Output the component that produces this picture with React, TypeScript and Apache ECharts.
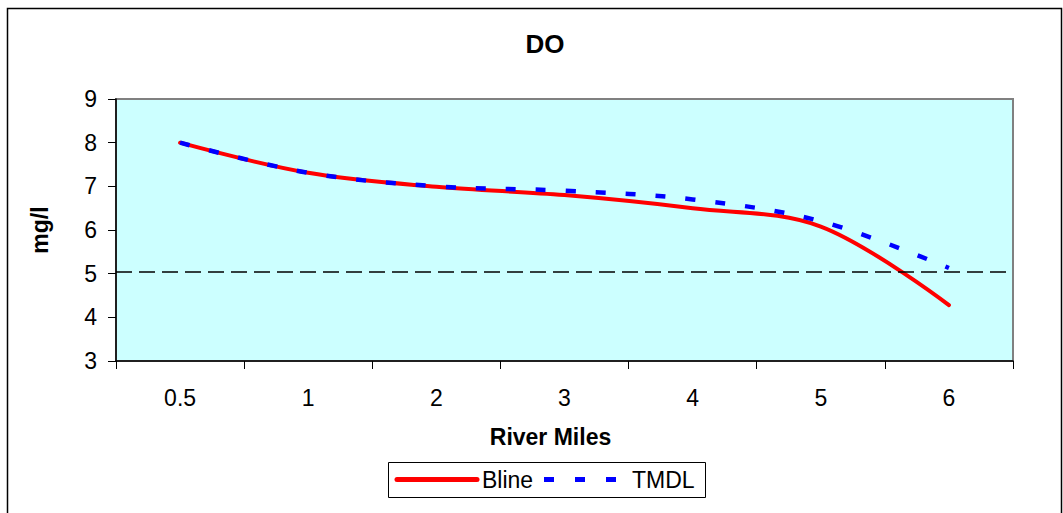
import React, { useEffect, useRef } from "react";
import * as echarts from "echarts";

const categories = ["0.5", "1", "2", "3", "4", "5", "6"];
const blineValues = [8.0, 7.31, 6.99, 6.8, 6.5, 6.08, 4.28];
const tmdlValues = [8.0, 7.31, 7.0, 6.9, 6.7, 6.2, 5.13];
const standardValue = 5.05;
const yTicks = { min: 3, max: 9, interval: 1 };
const legendNames = ["Bline", "TMDL"];

export default function App() {
  const ref = useRef<HTMLDivElement>(null);
  useEffect(() => {
    document.body.style.margin = "0";
    const chart = echarts.init(ref.current!, null, { renderer: "svg" });
    const font = "'Liberation Sans', Arial, sans-serif";
    chart.setOption({
      animation: false,
      backgroundColor: "#ffffff",
      textStyle: { fontFamily: font },
      title: {
        text: "DO",
        left: 540,
        textAlign: "center",
        top: 26,
        textStyle: { fontSize: 26, fontWeight: "bold", color: "#000", fontFamily: font },
      },
      grid: {
        left: 116,
        right: 50,
        top: 99,
        bottom: 152,
        show: true,
        backgroundColor: "#CCFFFF",
        borderColor: "#808080",
        borderWidth: 2,
      },
      xAxis: {
        type: "category",
        data: categories,
        boundaryGap: true,
        name: "River Miles",
        nameLocation: "middle",
        nameGap: 64,
        nameTextStyle: {
          fontSize: 23,
          fontWeight: "bold",
          color: "#000",
          fontFamily: font,
          padding: [0, 28, 0, 0],
        },
        axisLine: { show: true, lineStyle: { color: "#000", width: 1.5 } },
        axisTick: { show: true, interval: 0, length: 8, lineStyle: { color: "#000", width: 1 } },
        axisLabel: { fontSize: 23, color: "#000", margin: 25, fontFamily: font, interval: 0 },
        splitLine: { show: false },
      },
      yAxis: {
        type: "value",
        min: yTicks.min,
        max: yTicks.max,
        interval: yTicks.interval,
        name: "mg/l",
        nameLocation: "middle",
        nameGap: 65,
        nameRotate: 90,
        nameTextStyle: { fontSize: 23, fontWeight: "bold", color: "#000", fontFamily: font },
        axisLine: { show: true, lineStyle: { color: "#000", width: 1.5 } },
        axisTick: { show: true, length: 8, lineStyle: { color: "#000", width: 1 } },
        axisLabel: { fontSize: 23, color: "#000", margin: 19, fontFamily: font },
        splitLine: { show: false },
      },
      series: [
        {
          name: legendNames[0],
          type: "line",
          data: blineValues,
          smooth: 0.35,
          symbol: "none",
          lineStyle: { color: "#FF0000", width: 4, cap: "round" },
          itemStyle: { color: "#FF0000" },
          z: 3,
          markLine: {
            silent: true,
            symbol: ["none", "none"],
            label: { show: false },
            lineStyle: { color: "#000", width: 1.5, type: [16, 7] },
            data: [{ yAxis: standardValue }],
          },
        },
        {
          name: legendNames[1],
          type: "line",
          data: tmdlValues,
          smooth: 0.35,
          symbol: "none",
          lineStyle: { color: "#0000FF", width: 4.5, type: [10, 20] },
          itemStyle: { color: "#0000FF" },
          z: 4,
        },
      ],
      graphic: [
        {
          type: "rect",
          shape: { x: 7.5, y: 8.5, width: 1054, height: 520 },
          style: { fill: "none", stroke: "#000", lineWidth: 1.5 },
          silent: true,
        },
        {
          type: "rect",
          shape: { x: 388.5, y: 462.5, width: 317, height: 35 },
          style: { fill: "#fff", stroke: "#000", lineWidth: 1 },
          silent: true,
        },
        {
          type: "line",
          shape: { x1: 397, y1: 479.5, x2: 477, y2: 479.5 },
          style: { stroke: "#FF0000", lineWidth: 5, lineCap: "round" },
          silent: true,
        },
        {
          type: "text",
          x: 482,
          y: 480,
          style: {
            text: legendNames[0],
            fontSize: 23,
            fontFamily: font,
            fill: "#000",
            verticalAlign: "middle",
            align: "left",
          },
          silent: true,
        },
        {
          type: "line",
          shape: { x1: 544, y1: 479.5, x2: 617, y2: 479.5 },
          style: { stroke: "#0000FF", lineWidth: 5, lineDash: [10, 21] },
          silent: true,
        },
        {
          type: "text",
          x: 632,
          y: 480,
          style: {
            text: legendNames[1],
            fontSize: 23,
            fontFamily: font,
            fill: "#000",
            verticalAlign: "middle",
            align: "left",
          },
          silent: true,
        },
      ],
    });
    return () => chart.dispose();
  }, []);
  return <div ref={ref} style={{ width: 1063, height: 513 }} />;
}
